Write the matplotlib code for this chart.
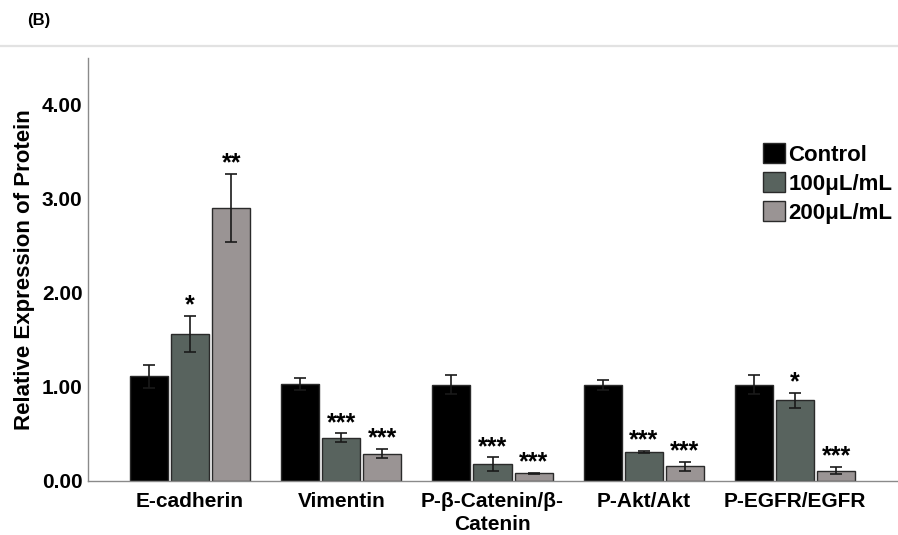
import matplotlib
matplotlib.use("Agg")
import matplotlib.pyplot as plt
import numpy as np
from matplotlib.patches import Patch

plt.rcParams['font.family'] = ['Liberation Sans', 'DejaVu Sans']

categories = ["E-cadherin", "Vimentin", "P-β-Catenin/β-\nCatenin", "P-Akt/Akt", "P-EGFR/EGFR"]
groups = ["Control", "100μL/mL", "200μL/mL"]

control = [1.11, 1.03, 1.02, 1.02, 1.02]
dose100 = [1.56, 0.46, 0.18, 0.31, 0.855]
dose200 = [2.90, 0.29, 0.08, 0.155, 0.11]

control_err = [0.12, 0.065, 0.10, 0.055, 0.10]
dose100_err = [0.19, 0.045, 0.07, 0.01, 0.075]
dose200_err = [0.36, 0.05, 0.01, 0.045, 0.04]

control_sig = ["", "", "", "", ""]
dose100_sig = ["*", "***", "***", "***", "*"]
dose200_sig = ["**", "***", "***", "***", "***"]

yticks = [0.0, 1.0, 2.0, 3.0, 4.0]

colors = ["#000000", "#58635e", "#9a9494"]

fig = plt.figure(figsize=(8.98, 5.35), dpi=100)
ax = fig.add_axes([88 / 898, 1 - 481 / 535, (897 - 88) / 898, (481 - 58) / 535])

x = np.arange(len(categories))
width = 0.252
offsets = [-0.272, 0.0, 0.272]
series = [control, dose100, dose200]
errs = [control_err, dose100_err, dose200_err]
sigs = [control_sig, dose100_sig, dose200_sig]

for vals, err, sig, off, col in zip(series, errs, sigs, offsets, colors):
    pos = x + off
    ax.bar(pos, vals, width=width, color=col, edgecolor="#2a2a2a", linewidth=1.0, zorder=2)
    ax.errorbar(pos, vals, yerr=err, fmt="none", ecolor="#1a1a1a", elinewidth=1.2,
                capsize=4.3, capthick=1.2, zorder=3)
    for p, v, e, s in zip(pos, vals, err, sig):
        if s:
            ax.annotate(s, (p, v + e), xytext=(0, -1), textcoords="offset points",
                        ha="center", va="bottom", fontsize=18, fontweight="bold")

ax.set_xlim(-0.675, 4.675)
ax.set_ylim(0, 4.49)
ax.set_yticks(yticks)
ax.set_yticklabels([f"{t:.2f}" for t in yticks], fontsize=15, fontweight="bold")
ax.set_xticks(x)
ax.set_xticklabels(categories, fontsize=15, fontweight="bold", linespacing=1.25)
ax.tick_params(axis="both", length=0)
ax.tick_params(axis="y", pad=4)
ax.tick_params(axis="x", pad=8)

for side in ["top", "right"]:
    ax.spines[side].set_visible(False)
for side in ["left", "bottom"]:
    ax.spines[side].set_color("#8a8a8a")
    ax.spines[side].set_linewidth(1.0)

ax.set_ylabel("Relative Expression of Protein", fontsize=16, fontweight="bold", labelpad=5)

handles = [Patch(facecolor=c, edgecolor="#2a2a2a", linewidth=1.0) for c in colors]
leg = ax.legend(handles, groups, loc="upper left", bbox_to_anchor=(0.823, 0.82),
                frameon=False, prop={"size": 16, "weight": "bold"},
                handlelength=1.0, handleheight=1.0, handletextpad=0.15,
                labelspacing=0.3, borderaxespad=0)

# panel letter and separator line
fig.text(27 / 898, 1 - 20 / 535, "(B)", fontsize=12, fontweight="bold", va="center", ha="left")
fig.add_artist(plt.Line2D([0, 1], [1 - 46 / 535, 1 - 46 / 535], color="#e2e2e2", linewidth=1.6,
                          transform=fig.transFigure))

fig.savefig("out.png", dpi=100)
